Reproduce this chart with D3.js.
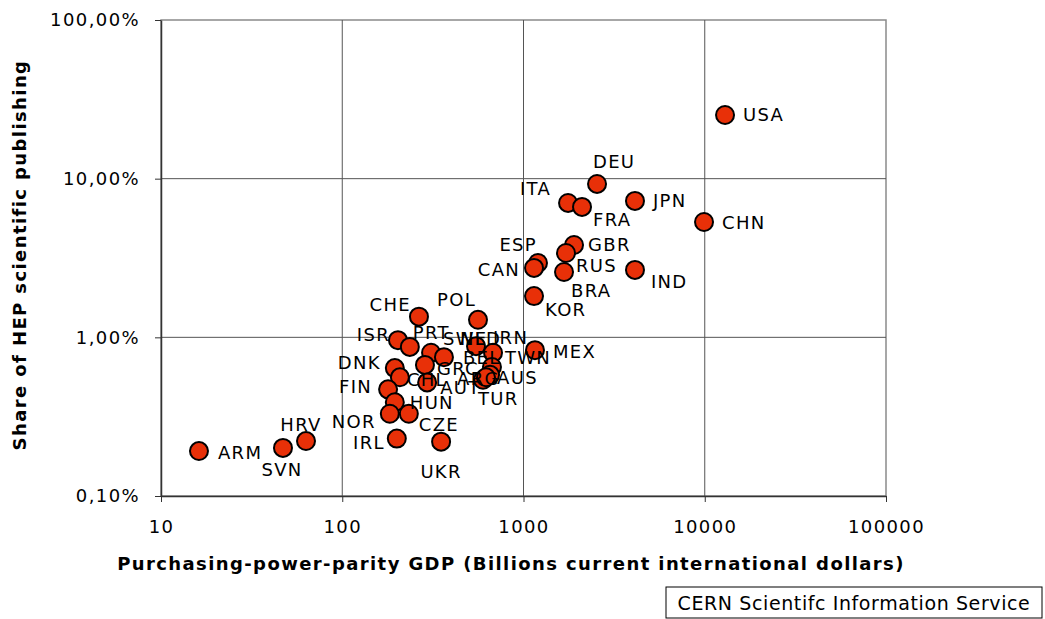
<!DOCTYPE html>
<html>
<head>
<meta charset="utf-8">
<script src="https://cdn.jsdelivr.net/npm/d3@7"></script>
<style>
  body { margin: 0; background: #fff; }
  text { font-family: "DejaVu Sans", Verdana, sans-serif; fill: #000; }
  .tick text { font-size: 18px; letter-spacing: 1.4px; }
  .axis-title { font-size: 18px; font-weight: bold; letter-spacing: 1.4px; }
  .lbl { font-size: 18px; letter-spacing: 1.3px; }
</style>
</head>
<body>
<svg width="1045" height="619"></svg>
<script>
// country codes, GDP PPP (billions intl $), share of HEP publishing (%)
const countries = ['USA','DEU','ITA','FRA','JPN','CHN','GBR','RUS','ESP','CAN','BRA','IND','KOR',
  'POL','CHE','MEX','ISR','PRT','SWE','NLD','IRN','BEL','TWN','GRC','DNK','CHL','AUT','ARG','AUS','TUR',
  'FIN','HUN','NOR','CZE','IRL','UKR','HRV','SVN','ARM'];
const gdp = [12940, 2545, 1761, 2103, 4122, 9908, 1900, 1716, 1202, 1143, 1673, 4122, 1143,
  561, 265, 1157, 203, 236, 309, 547, 679, 364, 670, 286, 195, 208, 294, 598, 654, 621,
  179, 195, 183, 233, 200, 351, 63.1, 47.1, 16.2];
const share = [25.2, 9.26, 7.03, 6.64, 7.24, 5.33, 3.82, 3.40, 2.94, 2.74, 2.58, 2.66, 1.82,
  1.29, 1.35, 0.83, 0.96, 0.87, 0.80, 0.88, 0.80, 0.75, 0.65, 0.67, 0.64, 0.56, 0.52, 0.54, 0.58, 0.56,
  0.47, 0.39, 0.33, 0.33, 0.23, 0.22, 0.222, 0.201, 0.192];
const xTicks = [10, 100, 1000, 10000, 100000];
const yTicks = [0.1, 1, 10, 100];

// where each data label sits relative to its marker
const labelPos = {
  USA:['start',18,0], DEU:['start',-4,-22], ITA:['end',-17,-14], FRA:['start',11,13],
  JPN:['start',18,0], CHN:['start',18,0], GBR:['start',14,0], RUS:['start',10,13],
  ESP:['end',-1,-19], CAN:['end',-14,2], BRA:['start',7,18], IND:['start',16,12],
  KOR:['start',11,13], POL:['end',-2,-20], CHE:['end',-8,-12], MEX:['start',18,1],
  ISR:['end',-8,-6], PRT:['start',3,-14], SWE:['start',12,-14], NLD:['start',-16,-8],
  IRN:['start',0,-15], BEL:['start',19,0], TWN:['start',13,-9], GRC:['start',12,4],
  DNK:['end',-14,-6], CHL:['start',7,2], AUT:['start',13,5], ARG:['start',-26,-1],
  AUS:['start',7,3], TUR:['start',-8,21], FIN:['end',-16,-3], HUN:['start',15,0],
  NOR:['end',-14,8], CZE:['start',10,11], IRL:['end',-12,4], UKR:['middle',0,30],
  HRV:['middle',-5,-17], SVN:['middle',-1,22], ARM:['start',19,1]
};

const data = countries.map((c, i) => ({ code: c, gdp: gdp[i], share: share[i] }));

const svg = d3.select('svg');
const margin = { top: 20, right: 159, bottom: 123, left: 161 };
const width = +svg.attr('width');
const height = +svg.attr('height');
const innerWidth = width - margin.left - margin.right;
const innerHeight = height - margin.top - margin.bottom;

const xScale = d3.scaleLog().domain([10, 100000]).range([0, innerWidth]);
const yScale = d3.scaleLog().domain([0.1, 100]).range([innerHeight, 0]);

const comma = d3.formatLocale({ decimal: ',', thousands: '.', grouping: [3], currency: ['', ''] });
const yFmt = d => comma.format('.2f')(d) + '%';

const g = svg.append('g').attr('transform', `translate(${margin.left},${margin.top})`);

// plot frame (top/right grey)
g.append('rect')
  .attr('width', innerWidth).attr('height', innerHeight)
  .attr('fill', '#fff').attr('stroke', '#8a8a8a').attr('stroke-width', 1.5);

// gridlines
g.append('g').selectAll('line').data(xTicks.slice(1, -1)).enter().append('line')
  .attr('x1', d => xScale(d)).attr('x2', d => xScale(d))
  .attr('y1', 0).attr('y2', innerHeight)
  .attr('stroke', '#555').attr('stroke-width', 1);
g.append('g').selectAll('line').data(yTicks.slice(1, -1)).enter().append('line')
  .attr('y1', d => yScale(d)).attr('y2', d => yScale(d))
  .attr('x1', 0).attr('x2', innerWidth)
  .attr('stroke', '#555').attr('stroke-width', 1);

const xAxis = d3.axisBottom(xScale).tickValues(xTicks).tickFormat(d3.format('d'))
  .tickSizeInner(6).tickSizeOuter(0).tickPadding(18);
const yAxis = d3.axisLeft(yScale).tickValues(yTicks).tickFormat(yFmt)
  .tickSizeInner(6).tickSizeOuter(0).tickPadding(15);

const xg = g.append('g').attr('transform', `translate(0,${innerHeight})`).call(xAxis);
const yg = g.append('g').call(yAxis);
[xg, yg].forEach(a => {
  a.select('.domain').attr('stroke', '#333').attr('stroke-width', 1.5);
  a.selectAll('.tick line').attr('stroke', '#333');
  a.selectAll('.tick text').attr('fill', '#000');
});

// markers
g.selectAll('circle').data(data).enter().append('circle')
  .attr('cx', d => xScale(d.gdp))
  .attr('cy', d => yScale(d.share))
  .attr('r', 9)
  .attr('fill', '#e83008')
  .attr('stroke', '#000')
  .attr('stroke-width', 2);

// data labels
g.selectAll('text.lbl').data(data).enter().append('text')
  .attr('class', 'lbl')
  .attr('x', d => xScale(d.gdp) + labelPos[d.code][1])
  .attr('y', d => yScale(d.share) + labelPos[d.code][2])
  .attr('dy', '0.36em')
  .attr('text-anchor', d => labelPos[d.code][0])
  .text(d => d.code);

// axis titles
svg.append('text').attr('class', 'axis-title')
  .attr('x', 511).attr('y', 570)
  .attr('text-anchor', 'middle')
  .text('Purchasing-power-parity GDP (Billions current international dollars)');

svg.append('text').attr('class', 'axis-title')
  .attr('transform', `translate(26,255) rotate(-90)`)
  .attr('text-anchor', 'middle')
  .text('Share of HEP scientific publishing');

// source box
const src = svg.append('g').attr('transform', 'translate(666,587)');
src.append('rect').attr('width', 376).attr('height', 31)
  .attr('fill', '#fff').attr('stroke', '#000').attr('stroke-width', 1);
src.append('text').attr('x', 188).attr('y', 16).attr('dy', '0.36em')
  .attr('text-anchor', 'middle').style('font-size', '19px').style('letter-spacing', '0.6px')
  .text('CERN Scientifc Information Service');
</script>
</body>
</html>
